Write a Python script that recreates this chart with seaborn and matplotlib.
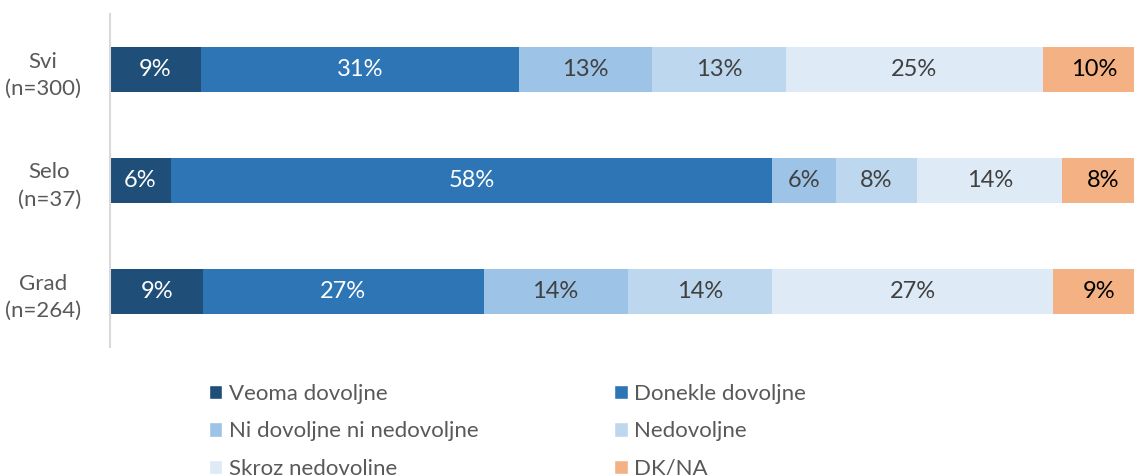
import numpy as np
import pandas as pd
from matplotlib import pyplot as plt
from matplotlib.patches import Patch
import seaborn as sns

# data
groups = ['Svi\n(n=300)', 'Selo\n(n=37)', 'Grad\n(n=264)']
answers = ['Veoma dovoljne', 'Donekle dovoljne', 'Ni dovoljne ni nedovoljne',
           'Nedovoljne', 'Skroz nedovoljne', 'DK/NA']
veoma = [8.8, 5.9, 9.0]
donekle = [30.7, 58.1, 27.1]
ni_ni = [12.9, 6.1, 13.9]
nedovoljne = [12.9, 7.9, 14.0]
skroz = [24.8, 14.0, 27.1]
dkna = [9.9, 8.0, 8.9]

colors = ['#1F4E79', '#2E75B6', '#9DC3E6', '#BDD7EE', '#DEEBF7', '#F4B183']
text_colors = ['white', 'white', '#404040', '#404040', '#404040', 'black']

sns.set_style('white')
plt.rcParams['font.family'] = ['Lato', 'DejaVu Sans']

df = pd.DataFrame([veoma, donekle, ni_ni, nedovoljne, skroz, dkna],
                  index=answers, columns=groups).T
cum = df.cumsum(axis=1)

fig = plt.figure(figsize=(11.34, 4.75), dpi=100)
ax = fig.add_axes([110 / 1134, 1 - 347 / 475, 1035 / 1134, 333 / 475])

# stacked bars: draw cumulative totals, longest first
for i in range(len(answers) - 1, -1, -1):
    sns.barplot(x=cum[answers[i]].values, y=groups, orient='h', color=colors[i],
                width=0.4, saturation=1, ax=ax, linewidth=0)

for i, ans in enumerate(answers):
    for j, g in enumerate(groups):
        v = df.loc[g, ans]
        ax.text(cum.loc[g, ans] - v / 2, j, f'{round(v):.0f}%', ha='center',
                va='center', fontsize=17, color=text_colors[i])

ax.set_xlim(0, 100)
ax.set_ylim(2.5, -0.5)
ax.set_xticks([])
ax.set_xlabel('')
ax.set_ylabel('')
ax.tick_params(axis='y', length=0, pad=21, labelsize=16, labelcolor='#595959')
for lbl in ax.get_yticklabels():
    lbl.set_multialignment('center')
    lbl.set_linespacing(1.45)
for s in ['top', 'right', 'bottom']:
    ax.spines[s].set_visible(False)
ax.spines['left'].set_color('#D9D9D9')
ax.spines['left'].set_linewidth(1.5)

order = [0, 2, 4, 1, 3, 5]
handles = [Patch(facecolor=colors[k], label=answers[k]) for k in order]
fig.legend(handles=handles, loc='upper left', bbox_to_anchor=(209 / 1134, 1 - 384 / 475),
           ncol=2, frameon=False, fontsize=16, handlelength=0.6, handleheight=0.6,
           handletextpad=0.3, labelspacing=0.78, columnspacing=6.1,
           borderpad=0, borderaxespad=0, labelcolor='#595959')

plt.savefig('out.png', dpi=100)
